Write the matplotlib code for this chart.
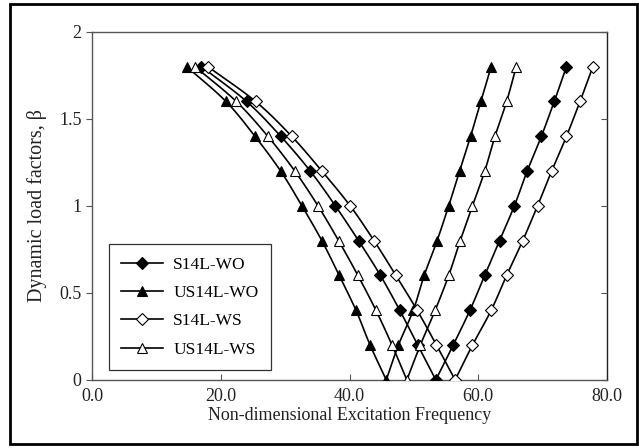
import numpy as np
import matplotlib
matplotlib.use("Agg")
import matplotlib.pyplot as plt
from matplotlib.patches import Rectangle

plt.rcParams['font.family'] = ['Liberation Serif', 'DejaVu Serif']

beta = [1.8, 1.6, 1.4, 1.2, 1.0, 0.8, 0.6, 0.4, 0.2, 0.0,
        0.2, 0.4, 0.6, 0.8, 1.0, 1.2, 1.4, 1.6, 1.8]

s14l_wo = [17.0, 24.0, 29.3, 33.9, 37.8, 41.4, 44.8, 47.8, 50.6, 53.4,
           56.1, 58.7, 61.0, 63.3, 65.6, 67.6, 69.8, 71.8, 73.7]
us14l_wo = [14.7, 20.8, 25.3, 29.3, 32.6, 35.7, 38.4, 41.0, 43.2, 45.7,
            47.6, 49.9, 51.6, 53.6, 55.4, 57.1, 58.8, 60.4, 62.0]
s14l_ws = [18.0, 25.4, 31.0, 35.7, 40.1, 43.8, 47.2, 50.5, 53.5, 56.4,
           59.1, 62.0, 64.4, 66.9, 69.2, 71.4, 73.7, 75.8, 77.8]
us14l_ws = [16.0, 22.4, 27.3, 31.5, 35.1, 38.3, 41.3, 44.1, 46.6, 48.9,
            51.0, 53.3, 55.4, 57.2, 59.1, 61.0, 62.6, 64.4, 65.9]

series_names = ['S14L-WO', 'US14L-WO', 'S14L-WS', 'US14L-WS']
x_ticks = [0, 20, 40, 60, 80]
x_tick_labels = ['0.0', '20.0', '40.0', '60.0', '80.0']
y_ticks = [0, 0.5, 1, 1.5, 2]
y_tick_labels = ['0', '0.5', '1', '1.5', '2']


def catmull_rom(x, y, n=12):
    x = np.asarray(x, float)
    y = np.asarray(y, float)
    px = np.concatenate([[2 * x[0] - x[1]], x, [2 * x[-1] - x[-2]]])
    py = np.concatenate([[2 * y[0] - y[1]], y, [2 * y[-1] - y[-2]]])
    ox, oy = [], []
    t = np.linspace(0, 1, n, endpoint=False)
    for i in range(1, len(px) - 2):
        p0, p1, p2, p3 = [np.array([px[j], py[j]]) for j in range(i - 1, i + 3)]
        t2 = t * t
        t3 = t2 * t
        pts = 0.5 * ((2 * p1)[None, :] + (-p0 + p2)[None, :] * t[:, None]
                     + (2 * p0 - 5 * p1 + 4 * p2 - p3)[None, :] * t2[:, None]
                     + (-p0 + 3 * p1 - 3 * p2 + p3)[None, :] * t3[:, None])
        ox.extend(pts[:, 0])
        oy.extend(pts[:, 1])
    ox.append(x[-1])
    oy.append(y[-1])
    return np.array(ox), np.array(oy)


fig = plt.figure(figsize=(6.39, 4.48), dpi=100)
ax = fig.add_axes([0.144, 0.152, 0.806, 0.777])

styles = [
    dict(marker='D', mfc='black', mec='black', ms=6),
    dict(marker='^', mfc='black', mec='black', ms=7.5),
    dict(marker='D', mfc='white', mec='black', ms=6),
    dict(marker='^', mfc='white', mec='black', ms=7.5),
]
data = [s14l_wo, us14l_wo, s14l_ws, us14l_ws]

handles = []
for xs, name, st in zip(data, series_names, styles):
    imin = int(np.argmin(beta))
    for seg in (slice(0, imin + 1), slice(imin, len(beta))):
        sx, sy = catmull_rom(xs[seg], beta[seg])
        ax.plot(sx, sy, color='black', lw=1.2, zorder=2)
    ax.plot(xs, beta, linestyle='none', zorder=3, mew=0.8, **st)
    h, = ax.plot([], [], color='black', lw=1.2, mew=0.8, **st)
    h.set_label(name)
    handles.append(h)

ax.set_xlim(0, 80)
ax.set_ylim(0, 2)
ax.set_xticks(x_ticks)
ax.set_xticklabels(x_tick_labels)
ax.set_yticks(y_ticks)
ax.set_yticklabels(y_tick_labels)
ax.tick_params(axis='x', direction='in', length=4, width=0.8, colors='#555555',
               labelsize=13, labelcolor='#222222', pad=6)
ax.tick_params(axis='y', direction='out', length=4, width=0.8, colors='#555555',
               labelsize=13, labelcolor='#222222')
for sp in ax.spines.values():
    sp.set_color('#555555')
    sp.set_linewidth(1.0)
ax.spines['right'].set_color('#222222')

ax2 = ax.twinx()
ax2.set_ylim(0, 2)
ax2.set_yticks(y_ticks)
ax2.tick_params(axis='y', direction='in', length=4, width=0.8, colors='#555555',
                labelright=False)
for sp in ax2.spines.values():
    sp.set_visible(False)

ax.set_xlabel('Non-dimensional Excitation Frequency', fontsize=13, color='#222222', labelpad=1)
ax.set_ylabel('Dynamic load factors, β', fontsize=14.5, color='#222222', labelpad=9)

leg = ax.legend(handles=handles, loc='lower left', bbox_to_anchor=(0.033, 0.029),
                frameon=True, fancybox=False, edgecolor='black', fontsize=12.5,
                handlelength=2.4, labelspacing=0.7, borderpad=0.7, handletextpad=0.6,
                borderaxespad=0)
leg.get_frame().set_linewidth(0.9)

fig.patches.append(Rectangle((0.016, 0.008), 0.981, 0.982, transform=fig.transFigure,
                             fill=False, edgecolor='black', linewidth=2))

fig.savefig('out.png', dpi=100)
